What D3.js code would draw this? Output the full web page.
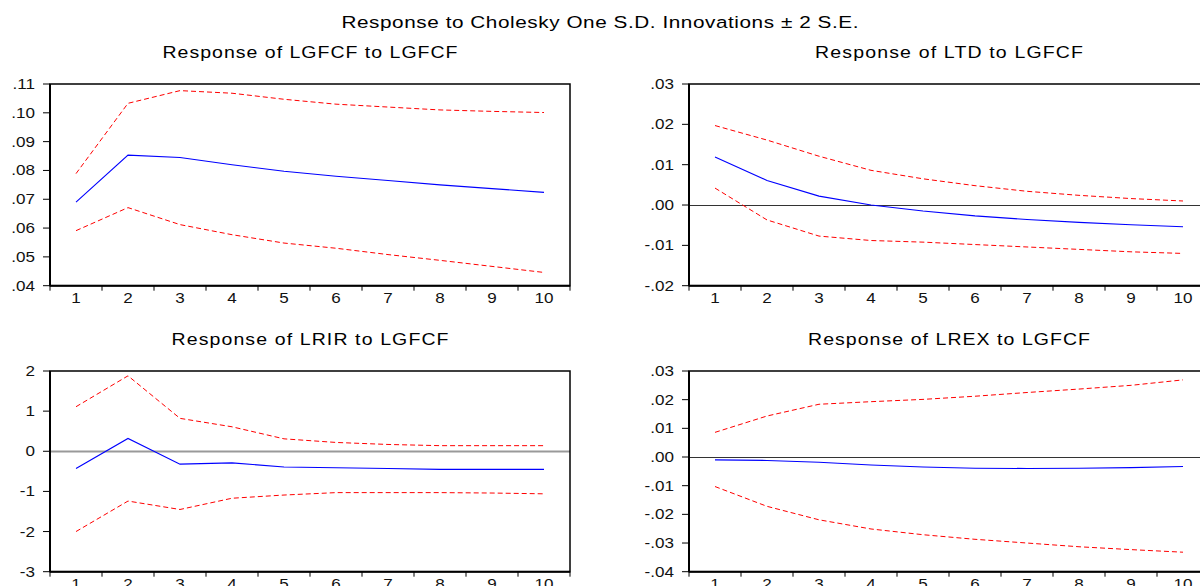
<!DOCTYPE html>
<html>
<head>
<meta charset="utf-8">
<script src="https://cdn.jsdelivr.net/npm/d3@7"></script>
<style>
  body { margin: 0; background: #fff; }
  text { font-family: "Liberation Sans", Arial, sans-serif; }
</style>
</head>
<body>
<div id="block"></div>
<script>
// periods on the x axis
var periods = [1, 2, 3, 4, 5, 6, 7, 8, 9, 10];

// Response of LGFCF to LGFCF
var lgfcf_resp  = [.0690, .0853, .0845, .0820, .0797, .0780, .0765, .0750, .0737, .0724];
var lgfcf_upper = [.0789, .1033, .1077, .1068, .1047, .1030, .1020, .1010, .1005, .1001];
var lgfcf_lower = [.0591, .0671, .0612, .0577, .0548, .0530, .0508, .0488, .0467, .0446];
var lgfcf_ticks = [.04, .05, .06, .07, .08, .09, .10, .11];

// Response of LTD to LGFCF
var ltd_resp  = [.0119, .0061, .0022, .0000, -.0015, -.0027, -.0036, -.0043, -.0049, -.0054];
var ltd_upper = [.0197, .0161, .0121, .0086, .0065, .0048, .0034, .0024, .0016, .0010];
var ltd_lower = [.0042, -.0037, -.0077, -.0088, -.0092, -.0098, -.0104, -.0110, -.0116, -.0120];
var ltd_ticks = [-.02, -.01, .00, .01, .02, .03];

// Response of LRIR to LGFCF
var lrir_resp  = [-0.43, 0.32, -0.32, -0.29, -0.39, -0.41, -0.43, -0.45, -0.45, -0.45];
var lrir_upper = [1.11, 1.88, 0.82, 0.61, 0.31, 0.22, 0.17, 0.14, 0.14, 0.14];
var lrir_lower = [-2.00, -1.24, -1.45, -1.17, -1.09, -1.03, -1.03, -1.03, -1.04, -1.06];
var lrir_ticks = [-3, -2, -1, 0, 1, 2];

// Response of LREX to LGFCF
var lrex_resp  = [-.0010, -.0012, -.0018, -.0028, -.0035, -.0039, -.0040, -.0039, -.0037, -.0033];
var lrex_upper = [.0086, .0143, .0184, .0193, .0201, .0212, .0225, .0237, .0250, .0269];
var lrex_lower = [-.0103, -.0172, -.0219, -.0251, -.0271, -.0287, -.0300, -.0313, -.0323, -.0332];
var lrex_ticks = [-.04, -.03, -.02, -.01, .00, .01, .02, .03];

var w = 1200,
  h = 586;

// the EViews font is wider than Liberation Sans, so stretch text sideways
var sx = 1.22;

var svg = d3.select("#block")
          .append("svg")
          .attr("width", w)
          .attr("height", h);

svg.append("text")
   .attr("transform", "translate(600,28) scale(" + sx + ",1)")
   .attr("text-anchor", "middle")
   .attr("font-size", 17)
   .attr("textLength", 517 / sx)
   .attr("lengthAdjust", "spacing")
   .text("Response to Cholesky One S.D. Innovations \u00b1 2 S.E.");

// EViews style labels: .05, -.01, 2
function fmtTick(v, dec) {
  var s = d3.format("." + dec + "f")(Math.abs(v));
  if (dec > 0) s = s.replace(/^0/, "");
  return (v < 0 ? "-" : "") + s;
}

var panels = [
  {title: "Response of LGFCF to LGFCF", resp: lgfcf_resp, up: lgfcf_upper, lo: lgfcf_lower,
   ticks: lgfcf_ticks, dec: 2, zero: null, left: 50, top: 84, bottom: 285.7, tlen: 295},
  {title: "Response of LTD to LGFCF", resp: ltd_resp, up: ltd_upper, lo: ltd_lower,
   ticks: ltd_ticks, dec: 2, zero: "#333", left: 689, top: 84, bottom: 285.7, tlen: 268},
  {title: "Response of LRIR to LGFCF", resp: lrir_resp, up: lrir_upper, lo: lrir_lower,
   ticks: lrir_ticks, dec: 0, zero: "#999", left: 50, top: 371, bottom: 571.7, tlen: 277},
  {title: "Response of LREX to LGFCF", resp: lrex_resp, up: lrex_upper, lo: lrex_lower,
   ticks: lrex_ticks, dec: 2, zero: "#333", left: 689, top: 371, bottom: 571.7, tlen: 282}
];

var pw = 520;

panels.forEach(function(p) {
  var g = svg.append("g");

  var x = d3.scaleBand()
          .domain(periods)
          .range([p.left, p.left + pw]);

  var y = d3.scaleLinear()
          .domain(d3.extent(p.ticks))
          .range([p.bottom, p.top]);

  g.append("text")
   .attr("transform", "translate(" + (p.left + pw / 2) + "," + (p.top - 26) + ") scale(" + sx + ",1)")
   .attr("text-anchor", "middle")
   .attr("font-size", 16)
   .attr("textLength", p.tlen / sx)
   .attr("lengthAdjust", "spacing")
   .text(p.title);

  if (p.zero) {
    var zy = Math.round(y(0)) + 0.5;
    g.append("line")
     .attr("x1", p.left).attr("x2", p.left + pw)
     .attr("y1", zy).attr("y2", zy)
     .attr("stroke", p.zero)
     .attr("stroke-width", p.zero == "#999" ? 2 : 1);
  }

  var line = d3.line()
             .x(function(d, i) { return x(periods[i]) + x.bandwidth() / 2; })
             .y(function(d) { return y(d); });

  [p.up, p.lo].forEach(function(s) {
    g.append("path")
     .attr("d", line(s))
     .attr("fill", "none")
     .attr("stroke", "#ff0000")
     .attr("stroke-width", 1)
     .attr("stroke-dasharray", "5,3");
  });

  g.append("path")
   .attr("d", line(p.resp))
   .attr("fill", "none")
   .attr("stroke", "#0000ff")
   .attr("stroke-width", 1.1);

  // frame
  g.append("rect")
   .attr("x", p.left).attr("y", p.top)
   .attr("width", pw).attr("height", p.bottom - p.top)
   .attr("fill", "none")
   .attr("stroke", "#000")
   .attr("stroke-width", 1.5);
  g.append("line")
   .attr("x1", p.left).attr("x2", p.left)
   .attr("y1", p.top).attr("y2", p.bottom)
   .attr("stroke", "#000").attr("stroke-width", 2);
  g.append("line")
   .attr("x1", p.left).attr("x2", p.left + pw)
   .attr("y1", p.bottom).attr("y2", p.bottom)
   .attr("stroke", "#000").attr("stroke-width", 2);

  // y axis ticks and labels
  var yt = g.selectAll(".ytick")
            .data(p.ticks)
            .enter()
            .append("g");
  yt.append("line")
    .attr("x1", p.left - 7).attr("x2", p.left)
    .attr("y1", function(d) { return y(d); })
    .attr("y2", function(d) { return y(d); })
    .attr("stroke", "#000");
  yt.append("text")
    .attr("transform", function(d) {
      return "translate(" + (p.left - 15) + "," + (y(d) + 5) + ") scale(" + sx + ",1)";
    })
    .attr("text-anchor", "end")
    .attr("font-size", 14)
    .attr("fill", "#111")
    .text(function(d) { return fmtTick(d, p.dec); });

  // x ticks at band edges, labels at band centres
  var edges = periods.map(function(d) { return x(d); }).concat([p.left + pw]);
  g.selectAll(".xtick")
   .data(edges)
   .enter()
   .append("line")
   .attr("x1", function(d) { return d; })
   .attr("x2", function(d) { return d; })
   .attr("y1", p.bottom)
   .attr("y2", p.bottom + 5)
   .attr("stroke", "#000");
  g.selectAll(".xlab")
   .data(periods)
   .enter()
   .append("text")
   .attr("transform", function(d) {
     return "translate(" + (x(d) + x.bandwidth() / 2) + "," + (p.bottom + 17) + ") scale(" + sx + ",1)";
   })
   .attr("text-anchor", "middle")
   .attr("font-size", 14)
   .attr("fill", "#111")
   .text(function(d) { return d; });
});
</script>
</body>
</html>
